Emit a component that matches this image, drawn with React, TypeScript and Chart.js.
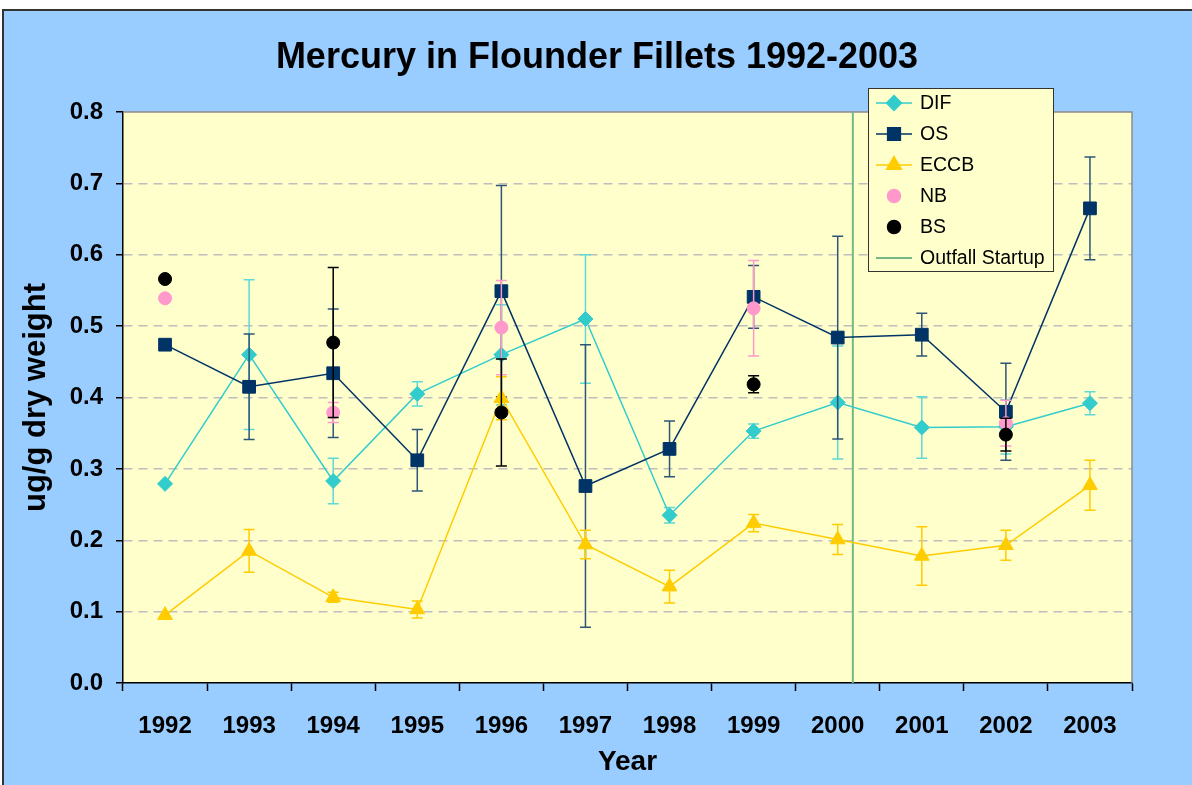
import React, { useEffect, useRef } from 'react';
import { Chart, registerables } from 'chart.js';
import { drawPoint } from 'chart.js/helpers';

Chart.register(...registerables);

const FONT = "'Liberation Sans', Arial, Helvetica, sans-serif";

const TITLE = 'Mercury in Flounder Fillets 1992-2003';
const X_TITLE = 'Year';
const Y_TITLE = 'ug/g dry weight';

const YEARS = ['1992', '1993', '1994', '1995', '1996', '1997', '1998', '1999', '2000', '2001', '2002', '2003'];

const DIF = [0.279, 0.46, 0.283, 0.405, 0.46, 0.51, 0.235, 0.353, 0.393, 0.358, 0.359, 0.392];
const DIF_ERR = [null, 0.105, 0.032, 0.017, 0.07, 0.09, 0.011, 0.01, 0.079, 0.043, 0.038, 0.016];

const OS = [0.474, 0.415, 0.434, 0.312, 0.549, 0.276, 0.328, 0.541, 0.484, 0.488, 0.38, 0.665];
const OS_ERR = [null, 0.074, 0.09, 0.043, 0.148, 0.198, 0.039, 0.044, 0.142, 0.03, 0.068, 0.072];

const ECCB = [0.095, 0.185, 0.12, 0.103, 0.399, 0.194, 0.135, 0.224, 0.201, 0.178, 0.193, 0.277];
const ECCB_ERR = [null, 0.03, 0.007, 0.012, 0.03, 0.02, 0.023, 0.012, 0.021, 0.041, 0.021, 0.035];

const NB = [0.539, null, 0.379, null, 0.498, null, null, 0.525, null, null, 0.364, null];
const NB_ERR = [null, null, 0.014, null, 0.066, null, null, 0.067, null, null, 0.032, null];

const BS = [0.566, null, 0.477, null, 0.379, null, null, 0.4185, null, null, 0.348, null];
const BS_ERR = [null, null, 0.105, null, 0.075, null, null, 0.012, null, null, 0.023, null];

// Outfall startup position, in category units (index of 2000 = 8)
const OUTFALL_POS = 8.18;

const Y_TICKS = [0, 0.1, 0.2, 0.3, 0.4, 0.5, 0.6, 0.7, 0.8];

const COLORS = {
  dif: '#33CCCC',
  difErr: '#5FD8D8',
  os: '#003366',
  osErr: '#2E5578',
  eccb: '#FFCC00',
  nb: '#FF99CC',
  bs: '#000000',
  outfall: '#74B985',
  page: '#99CCFF',
  plot: '#FFFFCC',
  grid: '#BEBEBE',
};

const backgroundPlugin = {
  id: 'bgFrame',
  beforeDraw(chart: any) {
    const { ctx, width, height, chartArea } = chart;
    ctx.save();
    ctx.fillStyle = '#FFFFFF';
    ctx.fillRect(0, 0, width, height);
    ctx.fillStyle = COLORS.page;
    ctx.fillRect(3, 10, width - 3, height - 10);
    ctx.strokeStyle = '#333333';
    ctx.lineWidth = 2;
    ctx.beginPath();
    ctx.moveTo(3, height);
    ctx.lineTo(3, 10);
    ctx.lineTo(width, 10);
    ctx.stroke();
    ctx.fillStyle = COLORS.plot;
    ctx.fillRect(chartArea.left, chartArea.top, chartArea.right - chartArea.left, chartArea.bottom - chartArea.top);
    ctx.restore();
  },
  beforeDatasetsDraw(chart: any) {
    const { ctx, chartArea } = chart;
    ctx.save();
    ctx.strokeStyle = '#8C8C8C';
    ctx.lineWidth = 1.5;
    ctx.beginPath();
    ctx.moveTo(chartArea.left, chartArea.top);
    ctx.lineTo(chartArea.right, chartArea.top);
    ctx.lineTo(chartArea.right, chartArea.bottom);
    ctx.stroke();
    // vertical marker lines from datasets carrying a "vline" position
    chart.data.datasets.forEach((ds: any) => {
      if (ds.vline == null) return;
      const x = chart.scales.x.getPixelForValue(ds.vline);
      ctx.strokeStyle = ds.borderColor;
      ctx.lineWidth = ds.borderWidth || 2;
      ctx.beginPath();
      ctx.moveTo(x, chartArea.top);
      ctx.lineTo(x, chartArea.bottom);
      ctx.stroke();
    });
    ctx.restore();
  },
};

const errorBarPlugin = {
  id: 'errorBars',
  beforeDatasetDraw(chart: any, args: any) {
    const ds: any = chart.data.datasets[args.index];
    if (!ds.errors) return;
    const { ctx } = chart;
    const yScale = chart.scales.y;
    const cap = 5.5;
    ctx.save();
    ctx.strokeStyle = ds.errorColor || ds.borderColor;
    ctx.lineWidth = 1.5;
    args.meta.data.forEach((pt: any, i: number) => {
      const v = ds.data[i];
      const e = ds.errors[i];
      if (v == null || e == null) return;
      const x = pt.x;
      const yt = yScale.getPixelForValue(v + e);
      const yb = yScale.getPixelForValue(v - e);
      ctx.beginPath();
      ctx.moveTo(x, yt);
      ctx.lineTo(x, yb);
      ctx.moveTo(x - cap, yt);
      ctx.lineTo(x + cap, yt);
      ctx.moveTo(x - cap, yb);
      ctx.lineTo(x + cap, yb);
      ctx.stroke();
    });
    ctx.restore();
  },
};

const titlePlugin = {
  id: 'pageTitle',
  afterDraw(chart: any) {
    const { ctx, width } = chart;
    ctx.save();
    ctx.fillStyle = '#000000';
    ctx.font = `bold 36px ${FONT}`;
    ctx.textAlign = 'center';
    ctx.textBaseline = 'middle';
    ctx.fillText(TITLE, width / 2 + 1, 58);
    ctx.restore();
  },
};

const legendBoxPlugin = {
  id: 'legendBox',
  afterDraw(chart: any) {
    const { ctx } = chart;
    const bx = 868.5, by = 88.5, bw = 185, bh = 183;
    ctx.save();
    ctx.fillStyle = COLORS.plot;
    ctx.fillRect(bx, by, bw, bh);
    ctx.strokeStyle = '#333333';
    ctx.lineWidth = 1;
    ctx.strokeRect(bx, by, bw, bh);
    const datasets = chart.data.datasets;
    datasets.forEach((ds: any, i: number) => {
      const cy = 103 + i * 31;
      if (ds.showLine !== false) {
        ctx.strokeStyle = ds.borderColor;
        ctx.lineWidth = ds.vline != null ? 2 : ds.borderWidth;
        ctx.beginPath();
        ctx.moveTo(876, cy);
        ctx.lineTo(912, cy);
        ctx.stroke();
      }
      if (ds.pointRadius > 0) {
        ctx.fillStyle = ds.pointBackgroundColor || ds.backgroundColor;
        ctx.strokeStyle = ds.pointBorderColor || ds.borderColor;
        drawPoint(ctx, { pointStyle: ds.pointStyle, rotation: 0, radius: ds.pointRadius, borderWidth: 1 }, 894, cy);
      }
      ctx.fillStyle = '#000000';
      ctx.font = `19.5px ${FONT}`;
      ctx.textBaseline = 'middle';
      ctx.textAlign = 'left';
      ctx.fillText(ds.label, 920, cy + 1);
    });
    ctx.restore();
  },
};

function series(label: string, data: any[], errors: any[], color: string, errColor: string, style: string, radius: number, showLine: boolean, order: number) {
  return {
    type: 'line',
    label,
    data,
    errors,
    errorColor: errColor,
    borderColor: color,
    backgroundColor: color,
    pointBackgroundColor: color,
    pointBorderColor: color,
    borderWidth: 1.5,
    pointStyle: style,
    pointRadius: radius,
    pointBorderWidth: 1,
    showLine,
    spanGaps: false,
    order,
  };
}

export default function App() {
  const canvasRef = useRef<HTMLCanvasElement>(null);

  useEffect(() => {
    if (!canvasRef.current) return;
    const chart = new Chart(canvasRef.current, {
      type: 'line',
      data: {
        labels: YEARS,
        datasets: [
          series('DIF', DIF, DIF_ERR, COLORS.dif, COLORS.difErr, 'rectRot', 7.5, true, 5),
          series('OS', OS, OS_ERR, COLORS.os, COLORS.osErr, 'rect', 9, true, 4),
          series('ECCB', ECCB, ECCB_ERR, COLORS.eccb, COLORS.eccb, 'triangle', 8.5, true, 3),
          series('NB', NB, NB_ERR, COLORS.nb, COLORS.nb, 'circle', 6.5, false, 2),
          series('BS', BS, BS_ERR, COLORS.bs, COLORS.bs, 'circle', 6.5, false, 1),
          {
            type: 'line',
            label: 'Outfall Startup',
            data: [],
            vline: OUTFALL_POS,
            borderColor: COLORS.outfall,
            backgroundColor: COLORS.outfall,
            borderWidth: 2,
            pointRadius: 0,
            showLine: true,
            order: 6,
          } as any,
        ] as any,
      },
      options: {
        animation: false,
        responsive: false,
        maintainAspectRatio: false,
        devicePixelRatio: 1,
        layout: { padding: { left: 0, right: 60, top: 112, bottom: 0 } },
        plugins: {
          legend: { display: false },
          tooltip: { enabled: false },
          title: { display: false },
        },
        scales: {
          x: {
            type: 'category',
            offset: true,
            grid: {
              display: true,
              offset: true,
              drawOnChartArea: false,
              drawTicks: true,
              tickLength: 8,
              tickColor: '#000000',
              tickWidth: 1.5,
            },
            border: { display: true, color: '#000000', width: 1.5 },
            ticks: {
              color: '#000000',
              font: { family: FONT, size: 24, weight: 'bold' },
              padding: 21,
              maxRotation: 0,
              autoSkip: false,
            },
            title: {
              display: true,
              text: X_TITLE,
              color: '#000000',
              font: { family: FONT, size: 28, weight: 'bold' },
              padding: { top: 0, bottom: 6 },
            },
            afterFit(scale: any) {
              scale.height = 102;
            },
          },
          y: {
            type: 'linear',
            min: 0,
            max: 0.8,
            afterBuildTicks(scale: any) {
              scale.ticks = Y_TICKS.map((v) => ({ value: v }));
            },
            grid: {
              display: true,
              drawOnChartArea: true,
              drawTicks: true,
              tickLength: 7,
              tickColor: '#000000',
              tickWidth: 1.5,
              lineWidth: 1.5,
              color: (c: any) =>
                c.tick && (c.tick.value === 0 || Math.abs(c.tick.value - 0.8) < 1e-9) ? 'rgba(0,0,0,0)' : COLORS.grid,
            },
            border: { display: true, color: '#000000', width: 1.5, dash: [9, 6] },
            ticks: {
              color: '#000000',
              font: { family: FONT, size: 24, weight: 'bold' },
              padding: 13,
              callback: (v: any) => Number(v).toFixed(1),
            },
            title: {
              display: true,
              text: Y_TITLE,
              color: '#000000',
              font: { family: FONT, size: 31, weight: 'bold' },
              padding: { top: 18, bottom: 0 },
            },
            afterFit(scale: any) {
              scale.width = 123;
            },
          },
        },
      } as any,
      plugins: [backgroundPlugin, errorBarPlugin, titlePlugin, legendBoxPlugin],
    });
    return () => chart.destroy();
  }, []);

  return (
    <div style={{ position: 'absolute', left: 0, top: 0, width: 1192, height: 785 }}>
      <canvas ref={canvasRef} width={1192} height={785} style={{ display: 'block', width: 1192, height: 785 }} />
    </div>
  );
}
